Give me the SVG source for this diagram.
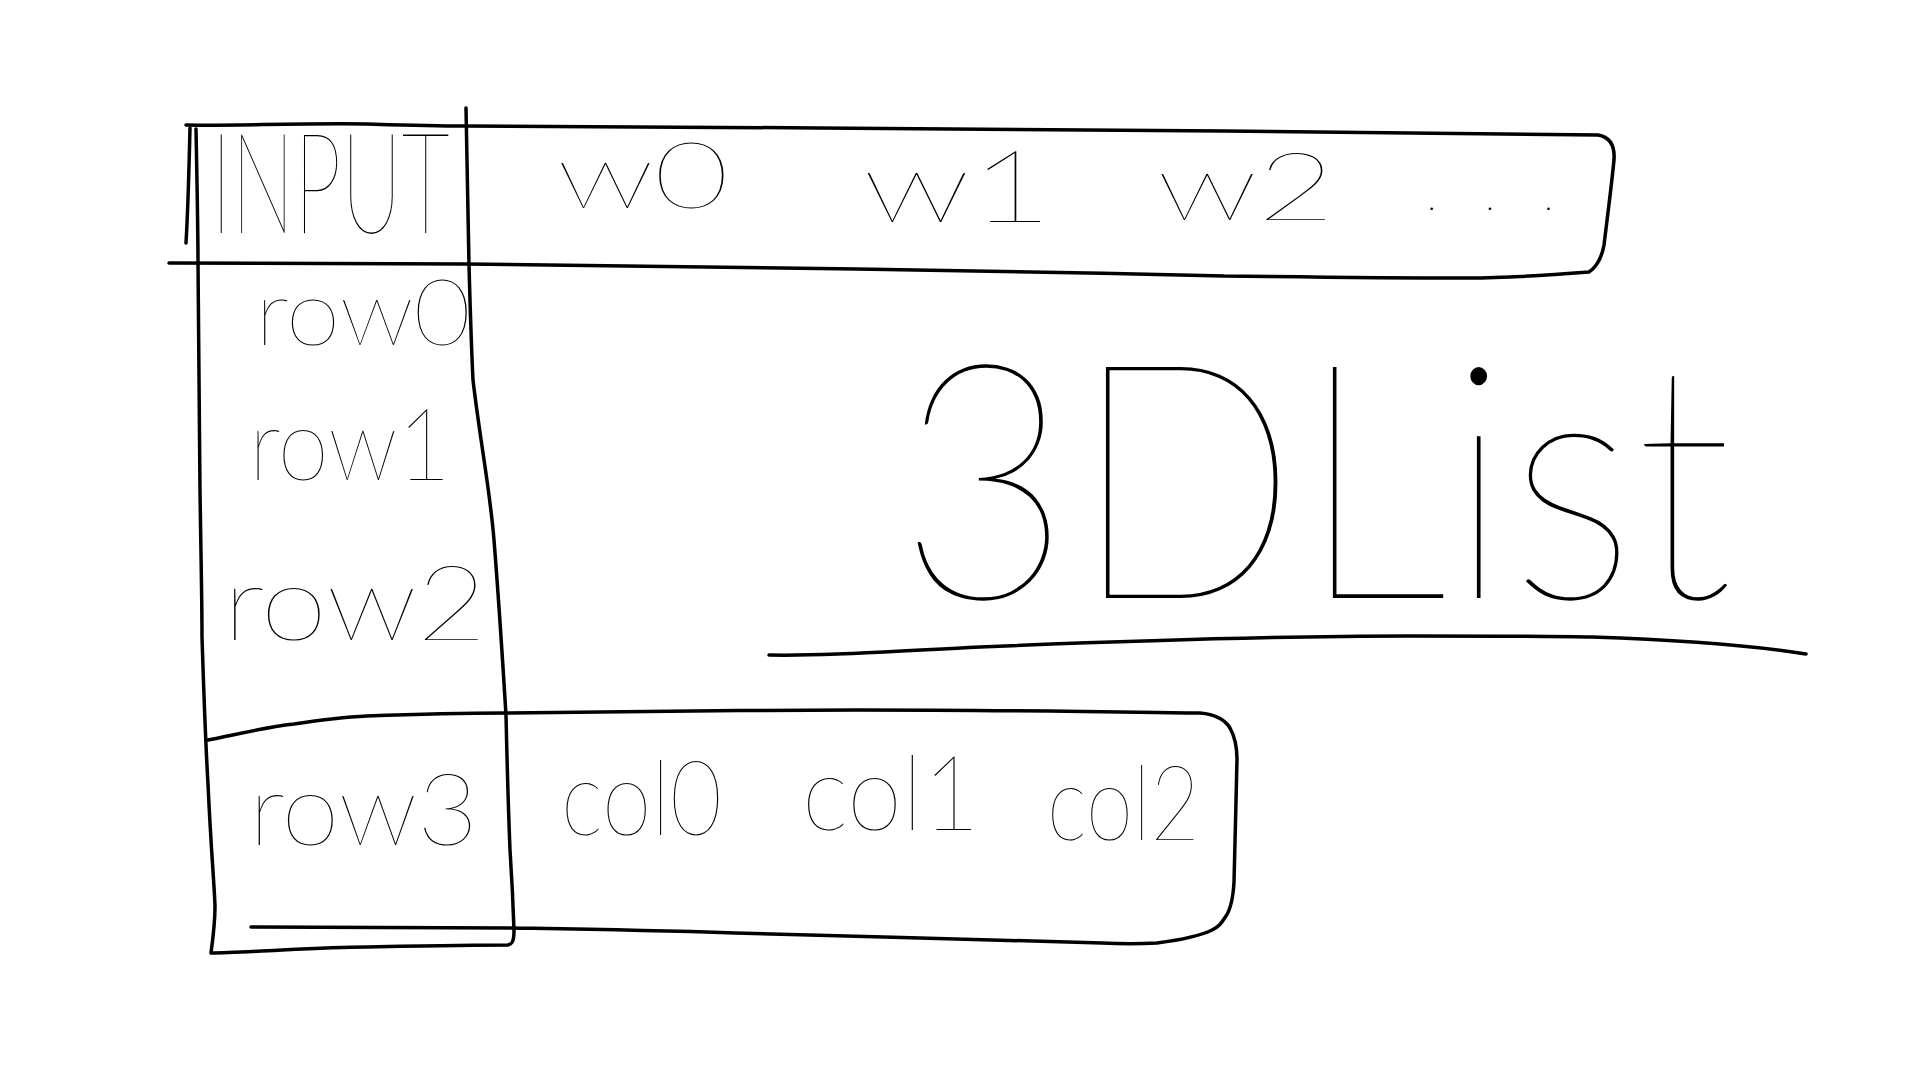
<svg xmlns="http://www.w3.org/2000/svg" width="1920" height="1080" viewBox="0 0 1920 1080">
<style>
.ln{fill:none;stroke:#000;stroke-width:3.5;stroke-linecap:round;stroke-linejoin:round}
.t{font-family:"Lato","Roboto","Liberation Sans",sans-serif;font-weight:100;fill:#000}
</style>
<rect width="1920" height="1080" fill="#fff"/>
<g id="header-row">
<path class="ln" d="M186,125 C230,126 300,123 367,124 C400,125 430,126 465,126 C700,127 1000,129 1224,131 C1400,133 1500,134 1598,135 C1610,137 1615,146 1614,160 C1611,190 1607,220 1604,245 C1602,256 1598,266 1589,272 C1550,275 1500,278 1469,278 C1350,278 1250,276 1224,276 C1100,273 950,270 857,269 C700,266 550,264 465,264 C350,263 250,263 169,263"/>
<path class="ln" d="M190,128 C189,170 188,210 186,243"/>
<text class="t" transform="translate(211,233) scale(0.6,1)" x="0" y="0" font-size="140">INPUT</text>
<text class="t" x="557" y="208" font-size="92" textLength="172" lengthAdjust="spacingAndGlyphs">w0</text>
<text class="t" x="863" y="222" font-size="100" textLength="190" lengthAdjust="spacingAndGlyphs">w1</text>
<text class="t" x="1157" y="220" font-size="95" textLength="178" lengthAdjust="spacingAndGlyphs">w2</text>
<text class="t" x="1427" y="210" font-size="40" textLength="126" lengthAdjust="spacing">...</text>
</g>
<g id="row-column">
<path class="ln" d="M196,129 C197,180 198,230 198,263 C199,350 200,420 200,490 C201,560 202,600 202,637 C204,700 206,750 208,784 C211,850 214,880 215,906 C215,920 214,931 211,953 C230,953 260,951 282,950 C320,948 350,947 367,947 C420,946 470,945 508,945 C512,944 514,942 514,930 C513,900 512,880 510,850 C508,800 507,760 506,715 C502,650 498,590 494,540 C490,490 480,440 473,380 C471,340 470,300 469,265 C468,200 467,150 466,108"/>
<text class="t" x="255" y="345" font-size="92" textLength="216" lengthAdjust="spacingAndGlyphs">row0</text>
<text class="t" x="249" y="480" font-size="100" textLength="202" lengthAdjust="spacingAndGlyphs">row1</text>
<text class="t" x="223" y="640" font-size="105" textLength="264" lengthAdjust="spacingAndGlyphs">row2</text>
</g>
<g id="row3">
<path class="ln" d="M208,740 C230,736 260,728 294,724 C320,720 345,717 367,716 C420,714 470,713 506,713 C620,712 740,710 857,710 C1000,710 1120,712 1200,713 C1212,714 1224,718 1230,728 C1235,737 1237,748 1237,759 C1236,800 1235,850 1234,882 C1233,900 1230,910 1226,916 C1222,922 1220,926 1212,930 C1200,936 1180,940 1157,943 C1140,944 1120,944 1102,943 C1000,940 850,936 735,933 C640,930 570,929 512,928 C420,927 330,927 251,927"/>
<text class="t" x="249" y="845" font-size="100" textLength="229" lengthAdjust="spacingAndGlyphs">row3</text>
<text class="t" x="561" y="835" font-size="105" textLength="161" lengthAdjust="spacingAndGlyphs">col0</text>
<text class="t" x="802" y="830" font-size="105" textLength="178" lengthAdjust="spacingAndGlyphs">col1</text>
<text class="t" x="1047" y="840" font-size="105" textLength="153" lengthAdjust="spacingAndGlyphs">col2</text>
</g>
<g id="title">
<text class="t" x="898" y="598" font-size="330" textLength="835" lengthAdjust="spacingAndGlyphs">3DList</text>
<path class="ln" d="M769,655 C820,656 880,652 980,647 C1150,640 1300,636 1408,636 C1500,636 1560,636 1592,637 C1680,640 1750,645 1806,654"/>
</g>
<g id="connectors"></g>
</svg>
